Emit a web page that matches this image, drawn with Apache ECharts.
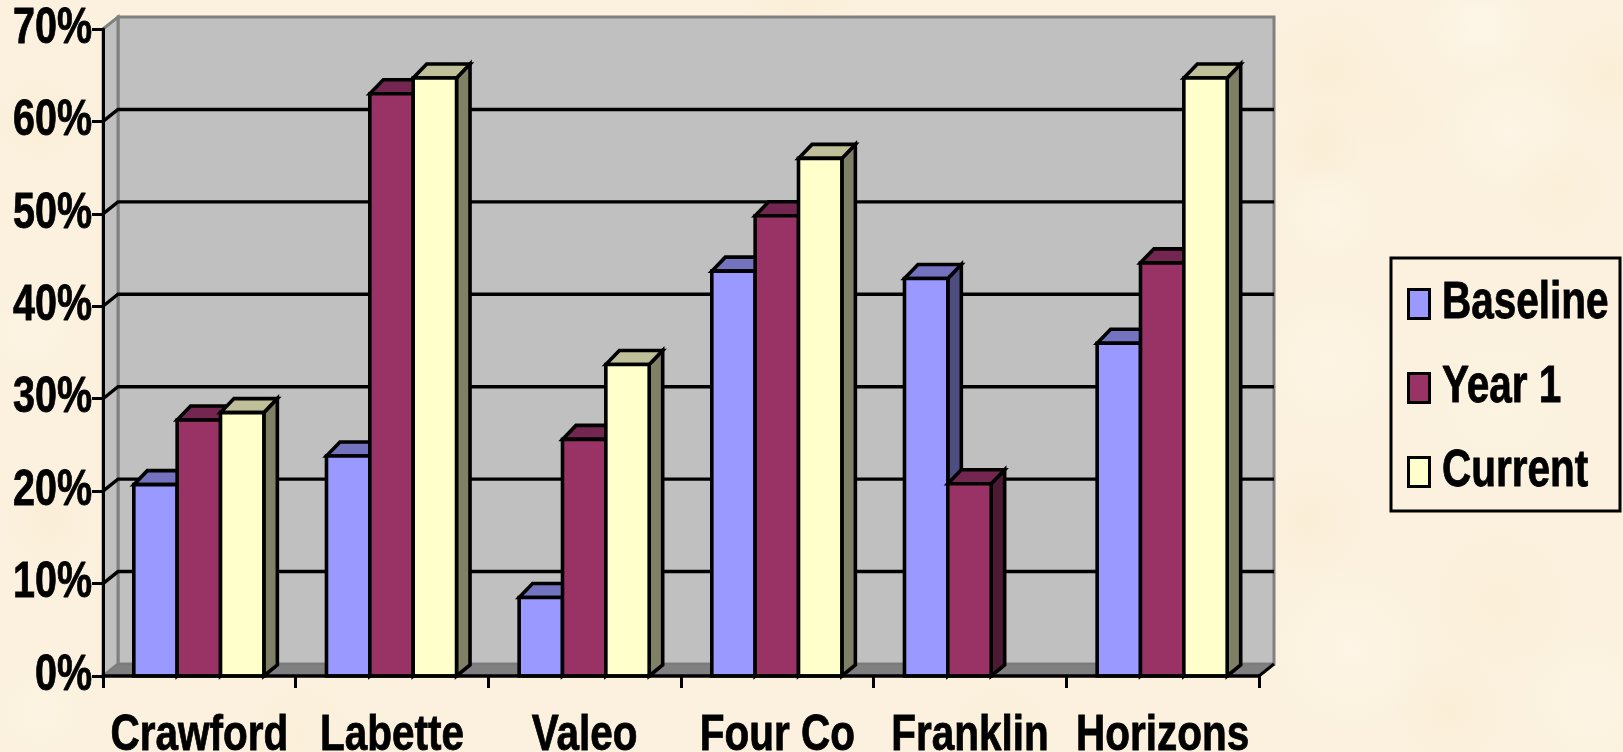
<!DOCTYPE html>
<html>
<head>
<meta charset="utf-8">
<style>
  html, body { margin: 0; padding: 0; background: #FBF1DE; }
  #chart { width: 1623px; height: 752px; }
</style>
<script src="https://cdn.jsdelivr.net/npm/echarts@6/dist/echarts.min.js"></script>
</head>
<body>
<div id="chart"></div>
<script>
// Share of sites by program and period, shown as 3D-look clustered columns.
const categories = ['Crawford', 'Labette', 'Valeo', 'Four Co', 'Franklin', 'Horizons'];
const baseline = [20.7, 23.8, 8.5, 43.8, 43, 36];
const year1 = [27.7, 63, 25.6, 49.8, 20.8, 44.7];
const current = [28.5, 64.7, 33.7, 56, null, 64.7];
const gridValues = [10, 20, 30, 40, 50, 60];

const seriesNames = ['Baseline', 'Year 1', 'Current'];
const frontColors = ['#9999FF', '#993366', '#FFFFCC'];
const topColors = ['#7373BF', '#732650', '#BFBF99'];
const sideColors = ['#4D4D80', '#4D1A33', '#808066'];

// Soft mottling of the parchment backdrop: [cx, cy, radius, colour].
const paperMottle = [
  [1330, 70, 70, 'rgba(250,234,205,0.45)'], [1480, 25, 55, 'rgba(255,249,238,0.6)'],
  [1610, 75, 60, 'rgba(250,234,205,0.4)'], [1320, 145, 45, 'rgba(250,232,200,0.4)'],
  [1510, 130, 70, 'rgba(255,248,236,0.5)'], [1390, 115, 60, 'rgba(252,238,212,0.4)'],
  [1330, 215, 50, 'rgba(255,248,236,0.5)'], [1560, 190, 55, 'rgba(250,236,208,0.4)'],
  [1330, 360, 75, 'rgba(255,247,234,0.5)'], [1310, 520, 60, 'rgba(250,233,204,0.4)'],
  [1350, 650, 85, 'rgba(255,248,236,0.5)'], [1500, 600, 80, 'rgba(250,235,207,0.4)'],
  [1590, 700, 70, 'rgba(255,248,236,0.4)'], [1450, 710, 60, 'rgba(250,234,205,0.4)'],
  [1500, 400, 90, 'rgba(254,245,230,0.4)'], [40, 120, 45, 'rgba(250,232,202,0.4)'],
  [30, 330, 45, 'rgba(255,248,236,0.4)'], [50, 520, 50, 'rgba(250,233,204,0.4)'],
  [40, 710, 45, 'rgba(255,247,234,0.4)'], [300, 735, 60, 'rgba(250,235,207,0.35)'],
  [800, 10, 60, 'rgba(250,234,205,0.35)'], [1000, 735, 60, 'rgba(250,234,205,0.35)']
];

const DEPTH_X = 13.5, TOP_RISE = 14, FOOT_RISE = 11;
const WALL_X = 15, WALL_Y = 12;
const FONT = '"Liberation Sans", Arial, sans-serif';
const EDGE = { stroke: '#000', lineWidth: 3.6, lineJoin: 'miter' };

function poly(points, fill, extra) {
  return { type: 'polygon', shape: { points }, style: Object.assign({ fill }, EDGE, extra || {}) };
}

// Side wall, back wall and floor of the plot box.
function renderWalls(params) {
  const r = params.coordSys;
  const l = r.x, t = r.y, w = r.width, h = r.height;
  const dx = WALL_X, dy = WALL_Y;
  const grey = { stroke: '#808080', lineWidth: 3 };
  return {
    type: 'group',
    children: [
      poly([[l + dx, t - dy], [l + w + dx, t - dy], [l + w + dx, t + h - dy], [l + dx, t + h - dy]], '#C0C0C0', grey),
      poly([[l, t], [l + dx, t - dy], [l + dx, t + h - dy], [l, t + h]], '#C0C0C0', grey),
      poly([[l, t + h], [l + dx, t + h - dy], [l + w + dx, t + h - dy], [l + w, t + h]], '#808080', { stroke: '#777', lineWidth: 1 }),
      { type: 'line', shape: { x1: l + w, y1: t + h, x2: l + w + dx, y2: t + h - dy }, style: { stroke: '#000', lineWidth: 3 } }
    ]
  };
}

// One grid line: a diagonal across the side wall, then straight along the back wall.
function renderGrid(params, api) {
  const r = params.coordSys;
  const y = api.coord([0, api.value(0)])[1];
  const dx = WALL_X, dy = WALL_Y;
  return {
    type: 'polyline',
    shape: { points: [[r.x, y], [r.x + dx, y - dy], [r.x + r.width + dx, y - dy]] },
    style: { fill: 'none', stroke: '#000', lineWidth: 3.4 }
  };
}

// A column with front, top and side faces, positioned from the data through the axes.
function columnRenderer(slot) {
  return function (params, api) {
    const value = api.value(1);
    if (value == null || isNaN(value)) return null;
    const band = api.size([1, 0])[0];
    const barW = band * 0.225;
    const center = api.coord([api.value(0), 0]);
    const x0 = center[0] + (slot - 1.5) * barW - 0.5;
    const x1 = x0 + barW;
    const yBase = center[1];
    const yTop = api.coord([api.value(0), value])[1];
    const dx = DEPTH_X;
    return {
      type: 'group',
      children: [
        poly([[x1, yBase], [x1 + dx, yBase - FOOT_RISE], [x1 + dx, yTop - TOP_RISE], [x1, yTop]], sideColors[slot]),
        poly([[x0, yTop], [x0 + dx, yTop - TOP_RISE], [x1 + dx, yTop - TOP_RISE], [x1, yTop]], topColors[slot]),
        poly([[x0, yBase], [x0, yTop], [x1, yTop], [x1, yBase]], frontColors[slot])
      ]
    };
  };
}

const columns = [baseline, year1, current].map(function (values, slot) {
  return {
    name: seriesNames[slot],
    type: 'custom',
    coordinateSystem: 'cartesian2d',
    z: 3,
    silent: true,
    itemStyle: { color: frontColors[slot], borderColor: '#000', borderWidth: 3 },
    encode: { x: 0, y: 1 },
    renderItem: columnRenderer(slot),
    data: values.map(function (v, i) { return [i, v]; })
  };
});

const mottleShapes = paperMottle.map(function (p) {
  return {
    type: 'circle',
    silent: true,
    z: -5,
    shape: { cx: p[0], cy: p[1], r: p[2] },
    style: {
      fill: new echarts.graphic.RadialGradient(0.5, 0.5, 0.5, [
        { offset: 0, color: p[3] },
        { offset: 1, color: p[3].replace(/[\d.]+\)$/, '0)') }
      ])
    }
  };
});

const chart = echarts.init(document.getElementById('chart'), null, { renderer: 'canvas' });
chart.setOption({
  animation: false,
  backgroundColor: '#FBF1DE',
  grid: { left: 103, right: 364, top: 29, bottom: 76, outerBoundsMode: 'none' },
  xAxis: {
    type: 'category',
    data: categories,
    z: 5,
    axisLine: { lineStyle: { color: '#000', width: 3.5 } },
    axisTick: { show: true, alignWithLabel: false, length: 12, lineStyle: { color: '#000', width: 3 } },
    axisLabel: { color: '#000', fontFamily: FONT, fontWeight: 'bold', fontSize: 50, margin: 35, interval: 0, hideOverlap: false, textBorderColor: '#000', textBorderWidth: 0.8 }
  },
  yAxis: {
    type: 'value',
    min: 0,
    max: 70,
    interval: 10,
    z: 5,
    splitLine: { show: false },
    axisLine: { show: true, lineStyle: { color: '#000', width: 3 } },
    axisTick: { show: true, length: 11, lineStyle: { color: '#000', width: 3 } },
    axisLabel: { color: '#000', fontFamily: FONT, fontWeight: 'bold', fontSize: 50, margin: 11, padding: [0, 0, 4, 0], textBorderColor: '#000', textBorderWidth: 0.8, formatter: '{value}%' }
  },
  legend: {
    left: 1407,
    top: 274,
    orient: 'vertical',
    itemWidth: 21,
    itemHeight: 29,
    itemGap: 24,
    padding: 0,
    selectedMode: false,
    textStyle: { color: '#000', fontFamily: FONT, fontWeight: 'bold', fontSize: 51, lineHeight: 54, padding: [6, 0, 0, 16], textBorderColor: '#000', textBorderWidth: 0.8 },
    data: seriesNames.map(function (name, i) {
      return { name, icon: 'rect', itemStyle: { color: frontColors[i], borderColor: '#000', borderWidth: 3 } };
    })
  },
  graphic: mottleShapes.concat([{
    type: 'rect',
    silent: true,
    z: 10,
    shape: { x: 1391, y: 258, width: 229, height: 253 },
    style: { fill: 'none', stroke: '#000', lineWidth: 3 }
  }]),
  series: [
    { type: 'custom', name: 'walls', z: 1, silent: true, coordinateSystem: 'cartesian2d', renderItem: renderWalls, data: [[0, 0]], encode: { x: 0, y: 1 } },
    { type: 'custom', name: 'grid', z: 2, silent: true, coordinateSystem: 'cartesian2d', renderItem: renderGrid, data: gridValues.map(function (v) { return [v]; }), encode: { y: 0 } }
  ].concat(columns)
});

// The labels use a condensed bold face; narrow each text element about its own anchor.
function condense(el) {
  if (el.type === 'text' && el.style && el.style.text) {
    const t = String(el.style.text);
    el.scaleX = categories.indexOf(t) >= 0 ? 0.81 : seriesNames.indexOf(t) >= 0 ? 0.795 : 0.79;
    el.markRedraw();
  }
  if (el.childrenRef) el.childrenRef().forEach(condense);
}
chart.getZr().storage.getRoots().forEach(condense);
chart.getZr().refresh();
</script>
</body>
</html>
